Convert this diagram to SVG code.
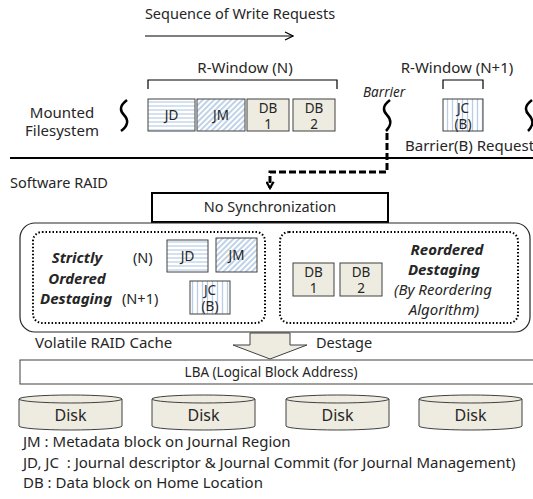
<svg xmlns="http://www.w3.org/2000/svg" width="533" height="499" viewBox="0 0 533 499">
<defs>
<pattern id="pH" width="4" height="4" patternUnits="userSpaceOnUse"><rect width="4" height="4" fill="#fff"/><line x1="0" y1="2" x2="4" y2="2" stroke="#b9cde5" stroke-width="1.2"/></pattern>
<pattern id="pV" width="5" height="5" patternUnits="userSpaceOnUse"><rect width="5" height="5" fill="#fff"/><line x1="2.5" y1="0" x2="2.5" y2="5" stroke="#b9cde5" stroke-width="1.3"/></pattern>
<pattern id="pD" width="4" height="4" patternUnits="userSpaceOnUse" patternTransform="rotate(45)"><rect width="4" height="4" fill="#fff"/><line x1="2" y1="0" x2="2" y2="4" stroke="#b9cde5" stroke-width="1.8"/></pattern>
<marker id="arrO" viewBox="0 0 10 10" refX="9" refY="5" markerWidth="10" markerHeight="10" markerUnits="userSpaceOnUse" orient="auto"><path d="M1,1 L9,5 L1,9" fill="none" stroke="#000" stroke-width="1.2"/></marker>
<marker id="arrV" viewBox="0 0 10 10" refX="8" refY="5" markerWidth="9" markerHeight="9" markerUnits="userSpaceOnUse" orient="auto"><path d="M1,1 L8,5 L1,9" fill="none" stroke="#000" stroke-width="2.5"/></marker>
</defs>
<style>
text{font-family:"Noto Sans","Open Sans","DejaVu Sans",sans-serif;fill:#262626;font-size:14.5px}
.c{text-anchor:middle}
.sm{font-size:13.5px}
.lg{font-size:15px}
.bi{font-weight:bold;font-style:italic;font-size:15px}
.it{font-style:italic}
.pre{white-space:pre}
.blk{stroke:#404040;stroke-width:1}
.db{fill:#eeece1}
.sq{fill:none;stroke:#000;stroke-width:2.5}
.br{fill:none;stroke:#000;stroke-width:1.2}
.dot{fill:none;stroke:#000;stroke-width:2;stroke-dasharray:1.5,2}
.disk{fill:#eeece1;stroke:#404040;stroke-width:1}
</style>

<g id="header">
<text class="c" x="240" y="19">Sequence of Write Requests</text>
<line x1="145" y1="36" x2="293" y2="36" stroke="#000" stroke-width="1.2" marker-end="url(#arrO)"/>
</g>

<g id="mounted-fs">
<text class="c lg" x="62" y="118">Mounted</text>
<text class="c lg" x="62" y="136">Filesystem</text>
<path class="sq" d="M127,100 C119,106 120,111 124,115 C129,120 128,126 121,131"/>
</g>

<g id="rwindow-n">
<text class="c lg" x="245" y="73">R-Window (N)</text>
<path class="br" d="M148,89 V80 H337 V89"/>
</g>

<g id="fs-jd"><rect x="148" y="99" width="47" height="32" fill="url(#pH)" class="blk"/><text class="c sm" x="171.5" y="120">JD</text></g>
<g id="fs-jm"><rect x="197" y="99" width="48" height="32" fill="url(#pD)" class="blk"/><text class="c sm" x="221" y="120">JM</text></g>
<g id="fs-db1"><rect x="247" y="99" width="42" height="32" class="db blk"/><text class="c sm" x="268" y="113">DB</text><text class="c sm" x="268" y="129">1</text></g>
<g id="fs-db2"><rect x="293" y="99" width="42" height="32" class="db blk"/><text class="c sm" x="314" y="113">DB</text><text class="c sm" x="314" y="129">2</text></g>

<g id="barrier">
<text class="it sm" x="363" y="97">Barrier</text>
<path class="sq" d="M390,100 C382,106 383,111 387,115 C392,120 391,126 386,131"/>
</g>

<g id="rwindow-n1">
<text class="c lg" x="457" y="73">R-Window (N+1)</text>
<path class="br" d="M443,89 V80 H483 V89"/>
</g>
<g id="fs-jc"><rect x="443" y="99" width="40" height="32" fill="url(#pV)" class="blk"/><text class="c sm" x="463" y="113">JC</text><text class="c sm" x="463" y="129">(B)</text></g>
<g id="right-sq"><path class="sq" d="M532,100 C524,106 525,111 529,115 C534,120 533,126 528,131"/></g>

<g id="barrier-req"><text class="lg" x="405" y="151">Barrier(B) Request</text></g>

<g id="divider"><line x1="10" y1="158" x2="533" y2="158" stroke="#000" stroke-width="2"/></g>

<g id="connectors">
<path d="M387,133 V172 H270 V188" fill="none" stroke="#000" stroke-width="3" stroke-dasharray="7,3" marker-end="url(#arrV)"/>
<polygon points="250,333 290,333 290,345 307,345 270,359 233,345 250,345" fill="#eeece1" stroke="#404040" stroke-width="1"/>
</g>

<g id="software-raid"><text x="10" y="188">Software RAID</text></g>

<g id="no-sync">
<rect x="152" y="193" width="236" height="29" fill="#fff" stroke="#000" stroke-width="2"/>
<text class="c" x="270" y="212">No Synchronization</text>
</g>

<g id="raid-cache">
<rect x="20" y="223" width="510" height="109" rx="15" fill="none" stroke="#262626" stroke-width="1.2"/>
</g>

<g id="strict">
<rect class="dot" x="33" y="232" width="232" height="91" rx="9"/>
<text class="bi c" x="77" y="263">Strictly</text>
<text class="bi c" x="77" y="284">Ordered</text>
<text class="bi" x="40" y="304">Destaging</text>
<text x="133" y="263">(N)</text>
<text x="122" y="304">(N+1)</text>
</g>
<g id="rc-jd"><rect x="167" y="240" width="41" height="32" fill="url(#pH)" class="blk"/><text class="c sm" x="187.5" y="261">JD</text></g>
<g id="rc-jm"><rect x="216" y="238" width="41" height="34" fill="url(#pD)" class="blk"/><text class="c sm" x="236.5" y="260">JM</text></g>
<g id="rc-jc"><rect x="190" y="281" width="40" height="33" fill="url(#pV)" class="blk"/><text class="c sm" x="210" y="295">JC</text><text class="c sm" x="210" y="311">(B)</text></g>

<g id="reordered">
<rect class="dot" x="280" y="232" width="238" height="91" rx="9"/>
<text class="bi c" x="447" y="255">Reordered</text>
<text class="bi c" x="444" y="275">Destaging</text>
<text class="it c lg" x="443" y="295">(By Reordering</text>
<text class="it c lg" x="444" y="315">Algorithm)</text>
</g>
<g id="rc-db1"><rect x="293" y="263" width="41" height="33" class="db blk"/><text class="c sm" x="313.5" y="277">DB</text><text class="c sm" x="313.5" y="293">1</text></g>
<g id="rc-db2"><rect x="340" y="263" width="42" height="33" class="db blk"/><text class="c sm" x="361" y="277">DB</text><text class="c sm" x="361" y="293">2</text></g>

<g id="cache-label"><text class="lg" x="35" y="348">Volatile RAID Cache</text></g>
<g id="destage-label"><text x="316" y="348">Destage</text></g>

<g id="lba">
<rect x="20" y="360" width="515" height="24" fill="#fff" stroke="#404040" stroke-width="1"/>
<text class="c sm" x="271" y="377">LBA (Logical Block Address)</text>
</g>

<g id="disk1"><path class="disk" d="M19,399 A51.5,4 0 0 1 122,399 V426 A51.5,4 0 0 1 19,426 Z"/><path class="disk" d="M19,399 A51.5,4 0 0 0 122,399" fill="none"/><text class="c" style="font-size:16px" x="70.5" y="421">Disk</text></g>
<g id="disk2"><path class="disk" d="M152,399 A51.5,4 0 0 1 255,399 V426 A51.5,4 0 0 1 152,426 Z"/><path class="disk" d="M152,399 A51.5,4 0 0 0 255,399" fill="none"/><text class="c" style="font-size:16px" x="203.5" y="421">Disk</text></g>
<g id="disk3"><path class="disk" d="M286,399 A51.5,4 0 0 1 389,399 V426 A51.5,4 0 0 1 286,426 Z"/><path class="disk" d="M286,399 A51.5,4 0 0 0 389,399" fill="none"/><text class="c" style="font-size:16px" x="337.5" y="421">Disk</text></g>
<g id="disk4"><path class="disk" d="M419,399 A51.5,4 0 0 1 522,399 V426 A51.5,4 0 0 1 419,426 Z"/><path class="disk" d="M419,399 A51.5,4 0 0 0 522,399" fill="none"/><text class="c" style="font-size:16px" x="470.5" y="421">Disk</text></g>

<g id="legend">
<text x="23" y="447" class="lg">JM : Metadata block on Journal Region</text>
<text x="23" y="468" class="lg pre">JD, JC  : Journal descriptor &amp; Journal Commit (for Journal Management)</text>
<text x="23" y="488" class="lg">DB : Data block on Home Location</text>
</g>
</svg>
